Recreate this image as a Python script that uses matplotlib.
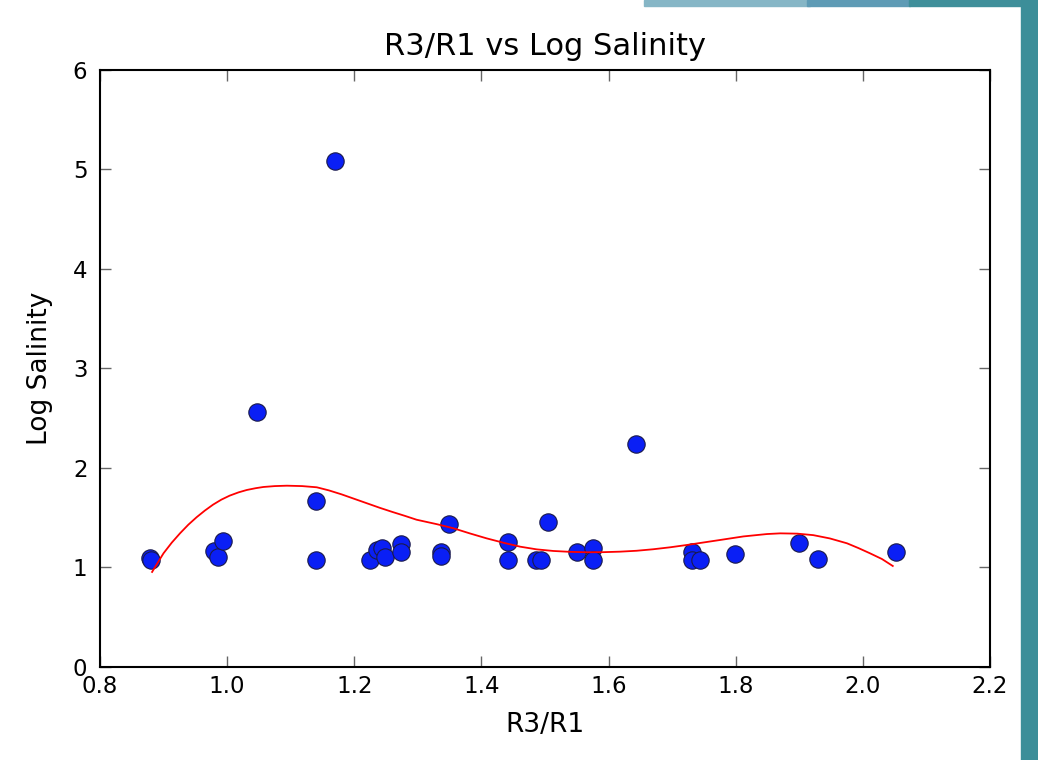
import numpy as np
import matplotlib
matplotlib.use("Agg")
import matplotlib.pyplot as plt
from matplotlib.patches import Rectangle

# scatter data
r3_r1 = [0.879, 0.880, 0.980, 0.985, 0.994, 1.047, 1.140, 1.140, 1.170,
         1.224, 1.235, 1.243, 1.249, 1.273, 1.273, 1.336, 1.336, 1.349,
         1.442, 1.442, 1.486, 1.493, 1.505, 1.551, 1.576, 1.576, 1.643,
         1.731, 1.731, 1.744, 1.799, 1.900, 1.929, 2.052]
log_sal = [1.10, 1.08, 1.166, 1.108, 1.266, 2.56, 1.67, 1.078, 5.085,
           1.075, 1.176, 1.193, 1.108, 1.236, 1.159, 1.159, 1.116, 1.434,
           1.253, 1.075, 1.075, 1.075, 1.46, 1.159, 1.193, 1.075, 2.238,
           1.159, 1.075, 1.075, 1.136, 1.243, 1.082, 1.159]

# red fitted curve
fit_x = [0.882, 0.891, 0.900, 0.913, 0.926, 0.939, 0.952, 0.965, 0.978, 0.991,
         1.004, 1.018, 1.031, 1.045, 1.057, 1.075, 1.094, 1.118, 1.141, 1.160,
         1.180, 1.200, 1.220, 1.240, 1.260, 1.280, 1.298, 1.330, 1.356, 1.382,
         1.408, 1.435, 1.461, 1.487, 1.513, 1.540, 1.566, 1.592, 1.618, 1.644,
         1.670, 1.697, 1.723, 1.750, 1.775, 1.812, 1.849, 1.870, 1.897, 1.922,
         1.948, 1.975, 1.993, 2.011, 2.030, 2.047]
fit_y = [0.955, 1.05, 1.143, 1.25, 1.344, 1.43, 1.505, 1.572, 1.632, 1.682,
         1.722, 1.755, 1.779, 1.797, 1.809, 1.818, 1.822, 1.818, 1.806, 1.775,
         1.735, 1.690, 1.645, 1.600, 1.558, 1.518, 1.48, 1.435, 1.394, 1.342,
         1.293, 1.248, 1.209, 1.182, 1.166, 1.157, 1.153, 1.154, 1.159, 1.168,
         1.183, 1.203, 1.226, 1.252, 1.276, 1.312, 1.336, 1.343, 1.340, 1.325,
         1.292, 1.243, 1.195, 1.143, 1.085, 1.015]

fig = plt.figure(figsize=(10.38, 7.6), dpi=100)

# slide decoration at the top and right edges
fig.patches.append(Rectangle((0.62, 0.992), 0.16, 0.008, transform=fig.transFigure,
                             color='#86b6c6', zorder=0))
fig.patches.append(Rectangle((0.777, 0.992), 0.10, 0.008, transform=fig.transFigure,
                             color='#5e9bb5', zorder=0))
fig.patches.append(Rectangle((0.876, 0.992), 0.124, 0.008, transform=fig.transFigure,
                             color='#3f8f9a', zorder=0))
fig.patches.append(Rectangle((0.984, 0.0), 0.016, 1.0, transform=fig.transFigure,
                             color='#3c8e99', zorder=0))

ax = fig.add_axes([0.0963, 0.1224, 0.8575, 0.7855])
ax.plot(r3_r1, log_sal, 'o', color='#0a1ff5', markeredgecolor='#1a1a4a',
        markeredgewidth=0.8, markersize=12.5, zorder=2)
ax.plot(fit_x, fit_y, '-', color='red', linewidth=1.3, zorder=3)

ax.set_xlim(0.8, 2.2)
ax.set_ylim(0, 6)
ax.set_xticks(np.arange(0.8, 2.21, 0.2))
ax.set_xticklabels(['0.8', '1.0', '1.2', '1.4', '1.6', '1.8', '2.0', '2.2'])
ax.set_yticks(range(0, 7))
ax.tick_params(direction='in', length=8, width=1, color='#666666',
               top=True, right=True, labelsize=16.5)
ax.tick_params(axis='x', pad=6)
ax.tick_params(axis='y', pad=9)
for s in ax.spines.values():
    s.set_linewidth(1.5)

ax.set_title('R3/R1 vs Log Salinity', fontsize=22, pad=11)
ax.set_xlabel('R3/R1', fontsize=19, labelpad=10)
ax.set_ylabel('Log Salinity', fontsize=19, labelpad=14)

fig.savefig('out.png', dpi=100)
